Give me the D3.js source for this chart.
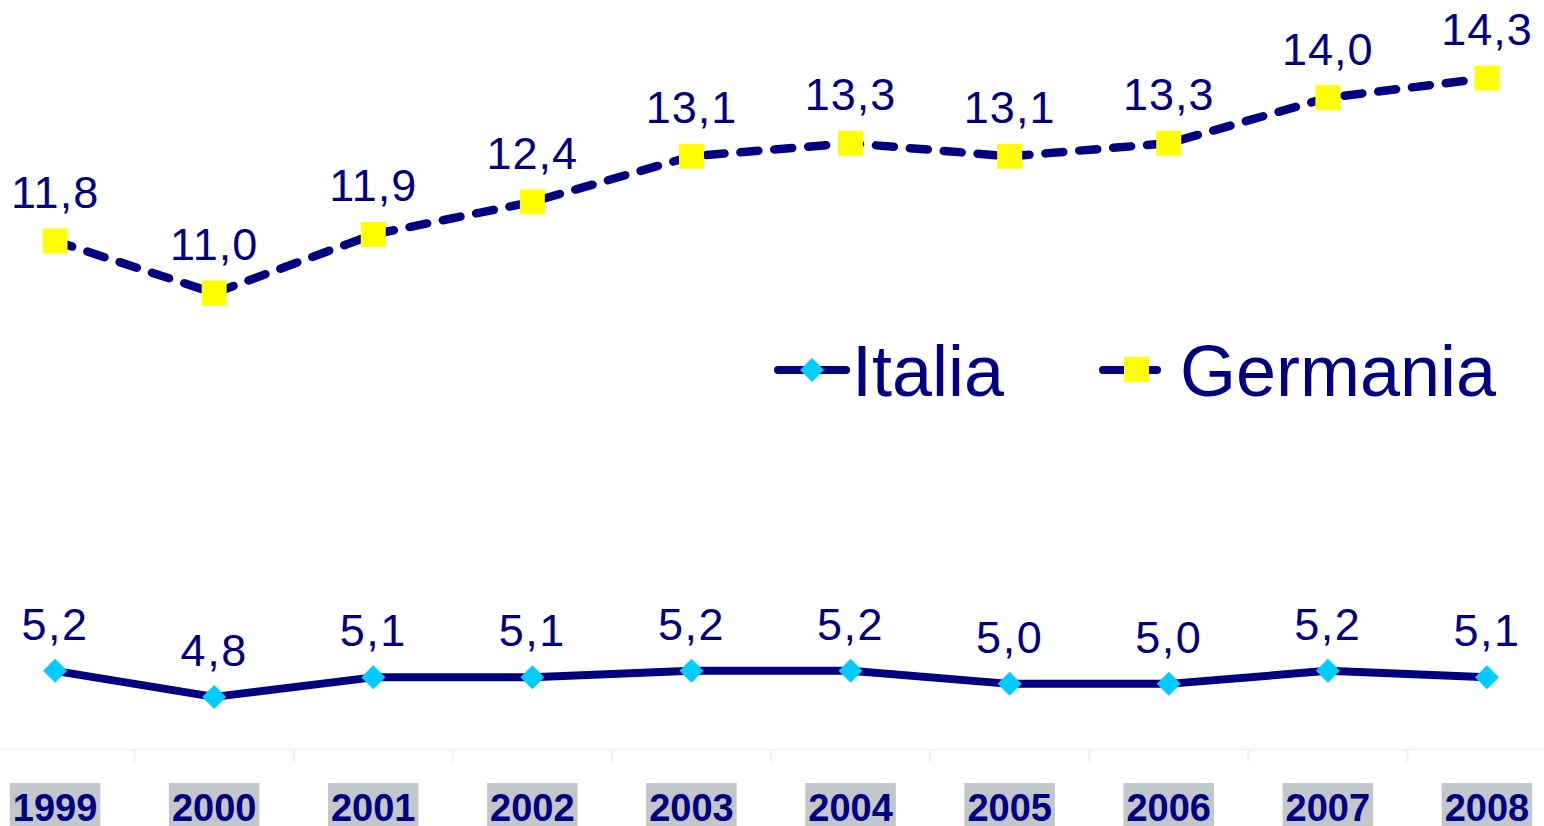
<!DOCTYPE html>
<html>
<head>
<meta charset="utf-8">
<script src="https://cdn.jsdelivr.net/npm/d3@7"></script>
<style>
  body { margin: 0; background: #fff; }
  svg { display: block; font-family: Arial, "Liberation Sans", sans-serif; }
</style>
</head>
<body>
<svg></svg>
<script>
const years = ["1999", "2000", "2001", "2002", "2003", "2004", "2005", "2006", "2007", "2008"];
const italia = [5.2, 4.8, 5.1, 5.1, 5.2, 5.2, 5.0, 5.0, 5.2, 5.1];
const germania = [11.8, 11.0, 11.9, 12.4, 13.1, 13.3, 13.1, 13.3, 14.0, 14.3];
const seriesNames = ["Italia", "Germania"];

const width = 1544;
const height = 826;
const navy = "#000080";

const svg = d3.select("svg").attr("width", width).attr("height", height);

const xScale = d3.scaleBand().domain(years).range([-24.5, 1566.5]).padding(0);
const xc = (d) => xScale(d) + xScale.bandwidth() / 2;
const yScale = d3.scaleLinear().domain([4, 15.5]).range([749, 0]);

const fmt = (v) => d3.format(".1f")(v).replace(".", ",");

// faint axis line + separators between categories
const axis = d3.axisBottom(xScale).tickSize(0).tickFormat("");
const gx = svg.append("g").attr("transform", `translate(0, 749)`).call(axis);
gx.select(".domain").attr("stroke", "#f3f3f3").attr("stroke-width", 2);
svg
  .append("g")
  .selectAll("line")
  .data(years.slice(1))
  .enter()
  .append("line")
  .attr("x1", (d) => xScale(d))
  .attr("x2", (d) => xScale(d))
  .attr("y1", 749)
  .attr("y2", 762)
  .attr("stroke", "#f0f0f0")
  .attr("stroke-width", 2);

// year labels with grey boxes
const labels = svg.append("g");
years.forEach((y) => {
  const g = labels.append("g");
  const rect = g.append("rect").attr("fill", "#c3c6ca");
  const t = g
    .append("text")
    .attr("x", xc(y))
    .attr("y", 821)
    .attr("text-anchor", "middle")
    .attr("font-size", 38)
    .attr("font-weight", "bold")
    .attr("fill", navy)
    .text(y);
  const bb = t.node().getBBox();
  rect
    .attr("x", bb.x - 3)
    .attr("y", 783)
    .attr("width", bb.width + 6)
    .attr("height", 50);
});

const line = d3
  .line()
  .x((d, i) => xc(years[i]))
  .y((d) => yScale(d));

// Italia
svg
  .append("path")
  .datum(italia)
  .attr("d", line)
  .attr("fill", "none")
  .attr("stroke", navy)
  .attr("stroke-width", 8)
  .attr("stroke-linejoin", "round");

const diamond = (cx, cy, r) =>
  `M${cx},${cy - r}L${cx + r},${cy}L${cx},${cy + r}L${cx - r},${cy}Z`;

svg
  .append("g")
  .selectAll("path")
  .data(italia)
  .enter()
  .append("path")
  .attr("d", (d, i) => diamond(xc(years[i]), yScale(d), 12))
  .attr("fill", "#00ccff");

svg
  .append("g")
  .selectAll("text")
  .data(italia)
  .enter()
  .append("text")
  .attr("x", (d, i) => xc(years[i]))
  .attr("y", (d) => yScale(d) - 31)
  .attr("text-anchor", "middle")
  .attr("font-size", 45)
  .attr("letter-spacing", 1.5)
  .attr("fill", navy)
  .text(fmt);

// Germania
svg
  .append("path")
  .datum(germania)
  .attr("d", line)
  .attr("fill", "none")
  .attr("stroke", navy)
  .attr("stroke-width", 8.5)
  .attr("stroke-dasharray", "18,16")
  .attr("stroke-linecap", "round")
  .attr("stroke-linejoin", "round");

svg
  .append("g")
  .selectAll("rect")
  .data(germania)
  .enter()
  .append("rect")
  .attr("x", (d, i) => xc(years[i]) - 12.5)
  .attr("y", (d) => yScale(d) - 12.5)
  .attr("width", 25)
  .attr("height", 25)
  .attr("fill", "#ffff00");

svg
  .append("g")
  .selectAll("text")
  .data(germania)
  .enter()
  .append("text")
  .attr("x", (d, i) => xc(years[i]))
  .attr("y", (d) => yScale(d) - 33)
  .attr("text-anchor", "middle")
  .attr("font-size", 45)
  .attr("letter-spacing", 1)
  .attr("fill", navy)
  .text(fmt);

// legend
const legend = svg.append("g");
const legY = 370;

legend
  .append("line")
  .attr("x1", 778).attr("x2", 846)
  .attr("y1", legY).attr("y2", legY)
  .attr("stroke", navy).attr("stroke-width", 8).attr("stroke-linecap", "round");
legend.append("path").attr("d", diamond(812, legY, 12)).attr("fill", "#00ccff");
legend
  .append("text")
  .attr("x", 852).attr("y", 396)
  .attr("font-size", 72).attr("fill", navy)
  .text(seriesNames[0]);

legend
  .append("line")
  .attr("x1", 1103).attr("x2", 1157)
  .attr("y1", legY).attr("y2", legY)
  .attr("stroke", navy).attr("stroke-width", 8).attr("stroke-linecap", "round")
  .attr("stroke-dasharray", "22,12");
legend
  .append("rect")
  .attr("x", 1124).attr("y", legY - 13)
  .attr("width", 25).attr("height", 25)
  .attr("fill", "#ffff00");
legend
  .append("text")
  .attr("x", 1180).attr("y", 396)
  .attr("font-size", 72).attr("fill", navy)
  .text(seriesNames[1]);
</script>
</body>
</html>
